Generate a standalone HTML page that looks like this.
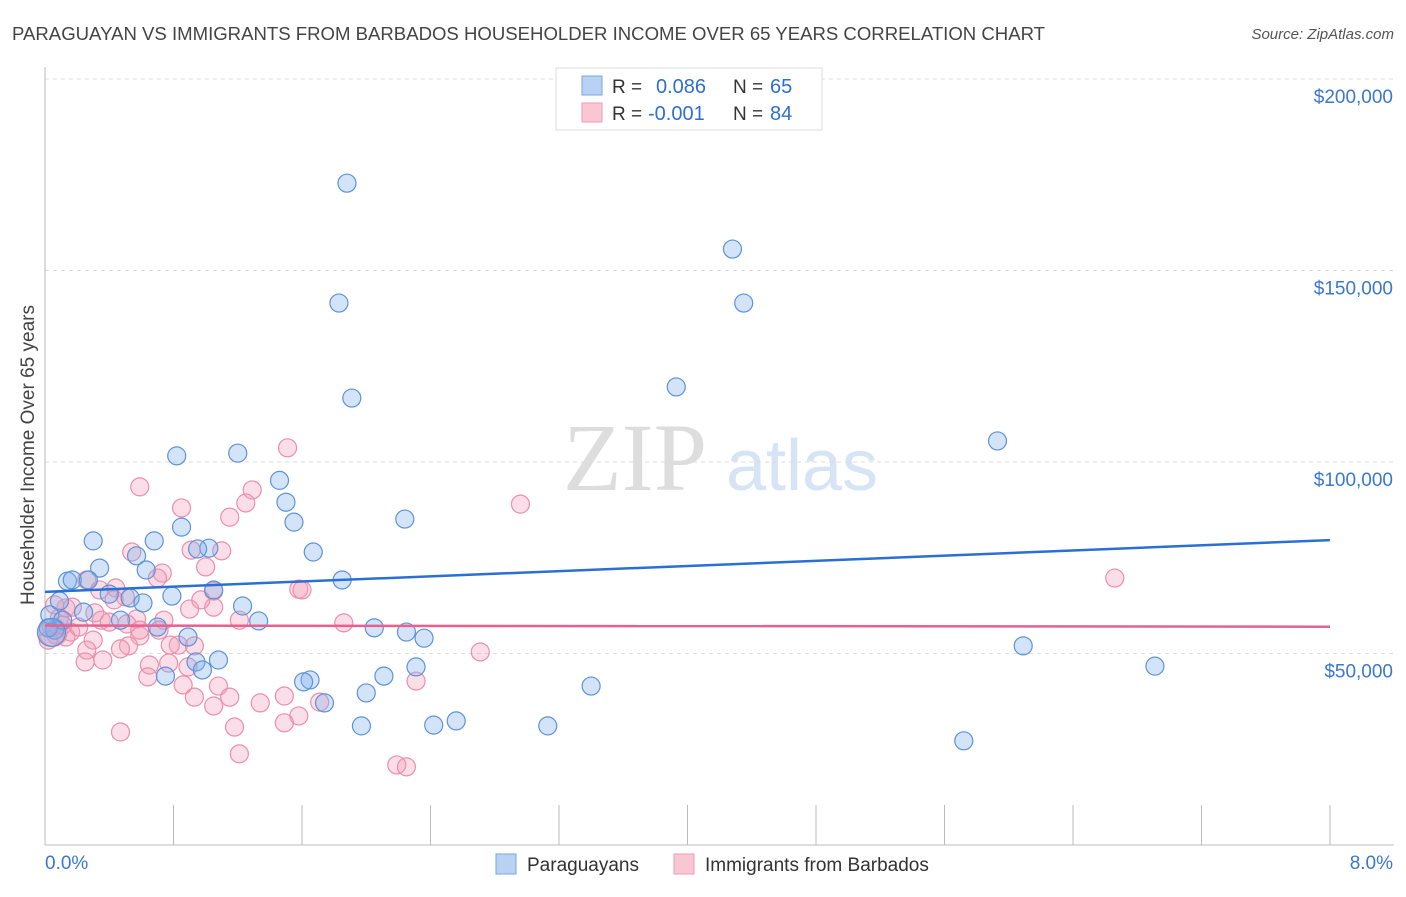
<!DOCTYPE html>
<html><head><meta charset="utf-8"><style>
body{margin:0;background:#fff;font-family:"Liberation Sans",sans-serif;}
</style></head><body>
<svg width="1406" height="892" xmlns="http://www.w3.org/2000/svg" id="chart">
<text x="12" y="40" font-size="18" fill="#444" textLength="1033" lengthAdjust="spacingAndGlyphs">PARAGUAYAN VS IMMIGRANTS FROM BARBADOS HOUSEHOLDER INCOME OVER 65 YEARS CORRELATION CHART</text>
<text x="1394" y="39" font-size="15" fill="#555" font-style="italic" text-anchor="end">Source: ZipAtlas.com</text>
<text transform="translate(34,455) rotate(-90)" font-size="19" fill="#444" text-anchor="middle">Householder Income Over 65 years</text>
<g>
<text x="635" y="490" font-size="96" font-family="Liberation Serif,serif" fill="#ddd" text-anchor="middle">ZIP</text>
<text x="802" y="490" font-size="72" fill="#d6e4f5" text-anchor="middle">atlas</text>
</g>
<g id="grid"></g><g id="axes"></g><g id="pts"></g><g id="lines"></g>
<g>
<rect x="556" y="68" width="266" height="62" fill="#fff" stroke="#ddd"/>
<rect x="582" y="76" width="20" height="19" fill="#b9d2f4" stroke="#7aa6e0"/>
<rect x="582" y="103" width="20" height="19" fill="#f9c6d4" stroke="#ee9bb4"/>
<text x="612" y="93" font-size="19" fill="#333">R = </text><text x="656" y="93" font-size="20" fill="#2f6fd0">0.086</text>
<text x="733" y="93" font-size="19" fill="#333">N = </text><text x="770" y="93" font-size="20" fill="#2f6fd0">65</text>
<text x="612" y="120" font-size="19" fill="#333">R = </text><text x="648" y="120" font-size="20" fill="#2f6fd0">-0.001</text>
<text x="733" y="120" font-size="19" fill="#333">N = </text><text x="770" y="120" font-size="20" fill="#2f6fd0">84</text>
</g>
<g>
<rect x="496" y="854" width="20" height="20" fill="#b9d2f4" stroke="#7aa6e0"/>
<text x="527" y="871" font-size="19" fill="#333">Paraguayans</text>
<rect x="674" y="854" width="20" height="20" fill="#f9c6d4" stroke="#ee9bb4"/>
<text x="705" y="871" font-size="19" fill="#333">Immigrants from Barbados</text>
</g>
</svg>
<script>
const yTicks=[50000,100000,150000,200000];
const yTickLabels=["$50,000","$100,000","$150,000","$200,000"];
const xTicks=[0,0.8,1.6,2.4,3.2,4.0,4.8,5.6,6.4,7.2,8.0];
const blueX=[1.88,4.28,1.83,4.35,3.93,1.91,5.93,0.82,1.20,1.46,1.50,2.24,1.55,0.85,0.30,0.68,1.02,0.95,0.57,1.67,0.34,0.63,0.14,0.17,0.27,1.85,1.05,0.79,0.40,0.53,0.09,0.61,1.23,0.24,0.47,1.33,0.70,2.05,2.25,2.36,0.89,0.06,0.02,6.09,1.08,0.94,2.31,0.98,6.91,0.75,2.11,1.65,1.61,3.40,2.00,1.74,2.56,2.42,1.97,3.13,5.72,0.03,0.11,0.04];
const blueY=[172.8,155.6,141.5,141.5,119.6,116.7,105.5,101.6,102.3,95.2,89.5,85.1,84.3,83.0,79.4,79.4,77.5,77.3,75.5,76.5,72.3,71.8,68.9,69.2,69.2,69.2,66.6,65.0,65.5,64.5,63.7,63.2,62.4,60.8,58.7,58.5,56.9,56.7,55.6,54.0,54.3,56.1,56.7,52.0,48.3,47.8,46.5,45.7,46.7,44.1,44.1,43.1,42.6,41.5,39.7,37.1,32.4,31.3,31.1,31.1,27.2,60.1,58.7,55.5];
const pinkX=[1.51,0.59,0.85,1.29,1.25,2.96,1.15,0.54,0.91,1.10,1.00,0.73,0.70,6.66,0.26,1.58,1.60,0.44,1.05,0.50,0.13,0.90,1.05,0.31,0.17,0.35,0.40,0.57,0.74,0.51,0.71,1.86,0.59,0.16,0.13,0.30,0.07,0.26,0.83,0.52,0.47,0.65,0.77,0.36,0.93,2.71,0.89,0.25,1.08,0.86,0.64,1.15,0.93,1.34,1.49,2.31,1.05,1.18,1.58,1.49,1.71,1.21,0.47,2.19,2.25,0.02,0.04,0.09,0.21,0.43,0.06,0.11,0.34,0.59,0.78,0.97,1.21,0.05];
const pinkY=[103.7,93.5,88.0,92.7,89.3,89.0,85.6,76.5,77.0,76.8,72.6,71.0,69.7,69.7,69.2,66.8,66.6,67.1,66.3,64.8,61.9,61.6,62.1,60.6,62.1,58.7,58.2,59.0,58.7,57.7,56.1,58.0,54.6,55.6,54.3,53.5,54.8,50.9,52.2,52.0,51.2,47.0,47.5,48.3,52.0,50.4,46.5,47.8,41.5,41.8,43.9,38.6,38.6,37.1,38.9,42.8,36.3,30.8,33.7,31.9,37.3,23.8,29.5,20.9,20.4,53.5,56.7,59.3,56.9,64.0,62.7,57.4,66.6,56.1,52.2,64.0,58.7,55.5];
const blueTrend=[66.1,79.6];
const pinkTrend=[57.3,57.0];
const NS='http://www.w3.org/2000/svg';
const X0=45,X1=1330,Y0=845;
function sx(v){return X0+(v/8)*(X1-X0);}
function sy(k){return Y0-(k/50)*191.5;}
function mk(t,a,p){const e=document.createElementNS(NS,t);for(const k in a)e.setAttribute(k,a[k]);p.appendChild(e);return e;}
const grid=document.getElementById('grid'),axes=document.getElementById('axes');
yTicks.forEach((t,i)=>{
 const y=sy(t/1000);
 const l=mk('line',{x1:45,x2:1394,y1:y,y2:y,stroke:'#ddd','stroke-dasharray':'4,4'},grid);
 
 
 const tx=mk('text',{x:1393,y:y+24,'font-size':19,fill:'#3a78d0','text-anchor':'end'},axes);
 tx.textContent=yTickLabels[i];
 
 
});
const ya=mk('line',{x1:45,x2:45,y1:67,y2:845,stroke:'#bbb'},axes);


const xa=mk('line',{x1:45,x2:1394,y1:845,y2:845,stroke:'#bbb'},axes);


xTicks.forEach(t=>{const l=mk('line',{x1:sx(t),x2:sx(t),y1:805,y2:845,stroke:'#bbb'},axes);
 
 });
let t0=mk('text',{x:45,y:869,'font-size':19,fill:'#3a78d0'},axes);t0.textContent='0.0%';


let t1=mk('text',{x:1393,y:869,'font-size':19,fill:'#3a78d0','text-anchor':'end'},axes);t1.textContent='8.0%';


const pts=document.getElementById('pts');
function draw(xs,ys,fill,stroke,name){xs.forEach((x,i)=>{const r=i===xs.length-1?14:9;
 const c=mk('circle',{cx:sx(x),cy:sy(ys[i]),r:r,fill:fill,stroke:stroke,'stroke-width':1.2},pts);
 
 });}
draw(pinkX,pinkY,'rgba(244,160,185,0.35)','#ec8eac','point-barbados');
draw(blueX,blueY,'rgba(130,175,235,0.35)','#5d93da','point-paraguayan');
const lines=document.getElementById('lines');
const bl=mk('line',{x1:sx(0),x2:sx(8),y1:sy(blueTrend[0]),y2:sy(blueTrend[1]),stroke:'#2a6fd6','stroke-width':2.5},lines);


const pl=mk('line',{x1:sx(0),x2:sx(8),y1:sy(pinkTrend[0]),y2:sy(pinkTrend[1]),stroke:'#e8608f','stroke-width':2.5},lines);


</script>
</body></html>
